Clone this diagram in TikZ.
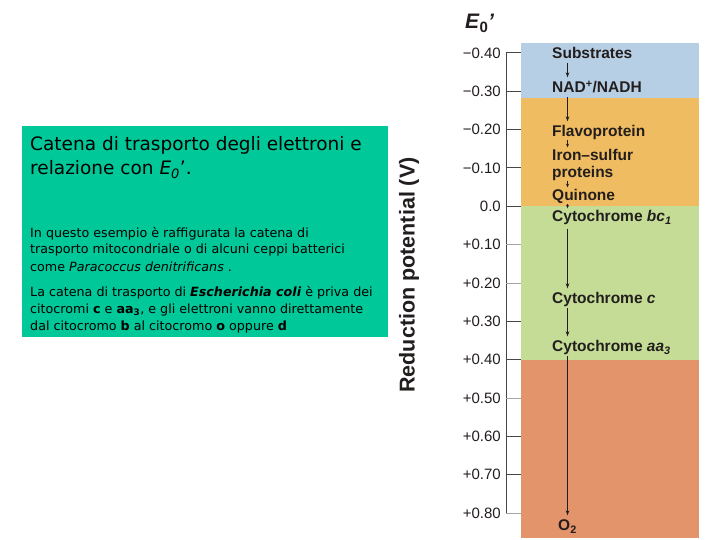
\documentclass[tikz,border=0pt]{standalone}
\usepackage{fontspec}
\setmainfont{Liberation Sans}
\newfontfamily\boxfont{DejaVu Sans}
\usetikzlibrary{arrows.meta}
\definecolor{teal1}{RGB}{0,200,152}
\definecolor{bandblue}{RGB}{183,207,228}
\definecolor{bandorange}{RGB}{240,188,97}
\definecolor{bandgreen}{RGB}{196,220,150}
\definecolor{bandred}{RGB}{228,148,106}
\definecolor{inkdark}{RGB}{35,30,30}
\definecolor{tickdark}{RGB}{70,70,70}
\definecolor{ticklight}{RGB}{165,165,165}
\begin{document}
\begin{tikzpicture}[x=1pt,y=-1pt,
  titlet/.style={anchor=base west,inner sep=0pt,font=\boxfont\fontsize{18.5}{18.5}\selectfont,text=black},
  bodyt/.style={anchor=base west,inner sep=0pt,font=\boxfont\fontsize{12.7}{12.7}\selectfont,text=black},
  ticklab/.style={anchor=east,inner sep=0pt,font=\fontsize{15}{15}\selectfont,text=inkdark},
  lab/.style={anchor=west,inner sep=0pt,text height=11pt,text depth=0pt,font=\fontsize{15.5}{15.5}\selectfont\bfseries,text=inkdark},
  arr/.style={draw=inkdark,line width=0.9pt,-{Stealth[length=5pt,width=3.6pt]},shorten <=4.5pt,shorten >=4pt},
  sarr/.style={draw=inkdark,line width=0.7pt,-{Stealth[length=3.5pt,width=3pt]},shorten <=3pt,shorten >=2pt},
  tickd/.style={draw=tickdark,line width=1pt},
  tickl/.style={draw=ticklight,line width=1pt}]
\useasboundingbox (0,0) rectangle (720,540);
\fill[white] (0,0) rectangle (720,540);
% text box
\fill[teal1] (22,126) rectangle (388,337);
\node[titlet] (t1) at (30,151) {Catena di trasporto degli elettroni e};
\node[titlet] (t2) at (30,175) {relazione con \textit{E\textsubscript{0}}’.};
\node[bodyt] (b1) at (30,237) {In questo esempio è raffigurata la catena di};
\node[bodyt] (b2) at (30,254) {trasporto mitocondriale o di alcuni ceppi batterici};
\node[bodyt] (b3) at (30,271) {come \textit{Paracoccus denitrificans} .};
\node[bodyt] (b4) at (30,296) {La catena di trasporto di \textbf{\textit{Escherichia coli}} è priva dei};
\node[bodyt] (b5) at (30,313) {citocromi \textbf{c} e \textbf{aa\textsubscript{3}}, e gli elettroni vanno direttamente};
\node[bodyt] (b6) at (30,330) {dal citocromo \textbf{b} al citocromo \textbf{o} oppure \textbf{d}};
% axis label
\node[rotate=90,inner sep=0pt,font=\fontsize{21.5}{21.5}\selectfont\bfseries,text=inkdark] (ylab) at (409,275) {Reduction potential (V)};
\node[inner sep=0pt,font=\fontsize{21}{21}\selectfont\bfseries,text=inkdark,anchor=base west] (e0) at (465,29) {\textit{E}\raisebox{-4pt}{\fontsize{15}{15}\selectfont 0}\textit{’}};
% bands
\fill[bandblue] (521,43) rectangle (699,98.5);
\fill[bandorange] (521,98.5) rectangle (699,206.5);
\fill[bandgreen] (521,206.5) rectangle (699,360);
\fill[bandred] (521,360) rectangle (699,538);
% axis
\draw[tickdark,line width=1pt] (506,53) -- (506,513);
\foreach \v/\y/\s in {−0.40/53/tickd,−0.30/91.3/tickd,−0.20/129.7/tickd,−0.10/168/tickd,0.0/206.3/tickd,+0.10/244.7/tickl,+0.20/283/tickl,+0.30/321.3/tickd,+0.40/359.7/tickd,+0.50/398/tickl,+0.60/436.3/tickd,+0.70/474.7/tickd,+0.80/513/tickl}{
  \draw[\s] (506,\y) -- (521,\y);
  \node[ticklab] at (501,\y) {\v};
}
% labels
\coordinate (ax) at (567.5,0);
\node[lab] (sub) at (552,53) {Substrates};
\node[lab] (nad) at (552,87) {NAD\textsuperscript{+}/NADH};
\node[lab] (fla) at (552,131) {Flavoprotein};
\node[lab] (iron) at (552,155) {Iron–sulfur};
\node[lab] (prot) at (552,172) {proteins};
\node[lab] (qui) at (552,195) {Quinone};
\node[lab] (bc) at (552,216) {Cytochrome \textit{bc\textsubscript{1}}};
\node[lab] (cc) at (552,298) {Cytochrome \textit{c}};
\node[lab] (aa) at (552,346) {Cytochrome \textit{aa\textsubscript{3}}};
\node[lab,anchor=center] (o2) at (567.5,525) {O\textsubscript{2}};
% connectors
\draw[arr] (sub.south -| ax) -- (nad.north -| ax);
\draw[arr] (nad.south -| ax) -- (fla.north -| ax);
\draw[sarr] (fla.south -| ax) -- (iron.north -| ax);
\draw[sarr] (prot.south -| ax) -- (qui.north -| ax);
\draw[sarr] (qui.south -| ax) -- (bc.north -| ax);
\draw[arr,shorten <=7pt] (bc.south -| ax) -- (cc.north -| ax);
\draw[arr] (cc.south -| ax) -- (aa.north -| ax);
\draw[arr] (aa.south -| ax) -- (o2.north -| ax);
\end{tikzpicture}
\end{document}
